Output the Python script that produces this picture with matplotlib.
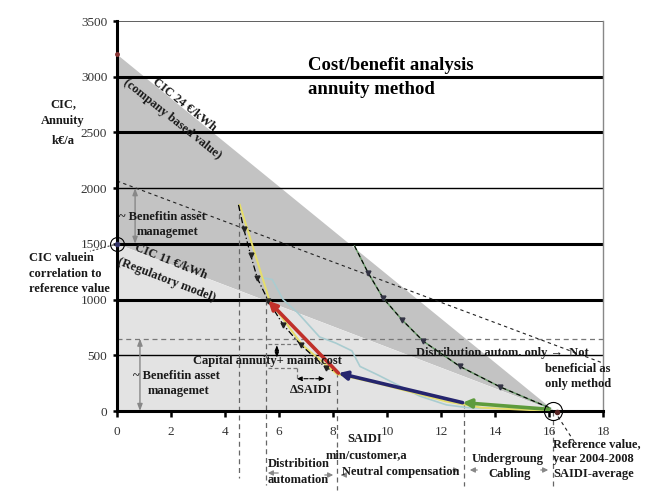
import numpy as np
import matplotlib
matplotlib.use("Agg")
import matplotlib.pyplot as plt

plt.rcParams['font.family'] = ['Liberation Serif', 'DejaVu Serif']

# CIC lines (k€/a at SAIDI = 0) and reference SAIDI
cic24_y0 = 3200
cic11_y0 = 1500
saidi_ref = 16.2

# distribution automation curve
auto_x = [4.5, 4.7, 4.95, 5.2, 5.6, 6.15, 6.8, 7.75, 8.15]
auto_y = [1850, 1630, 1400, 1190, 990, 775, 595, 385, 350]

# underground cabling curve
cab_x = [8.8, 9.3, 9.85, 10.55, 11.35, 12.7, 14.2, 16.05]
cab_y = [1480, 1240, 1015, 820, 625, 400, 215, 25]

# light blue curve
lb_x = [5.4, 5.75, 6.15, 6.7, 7.5, 8.1, 8.7, 9.0, 9.65, 11.2, 12.2, 13.0, 16.0]
lb_y = [1195, 1180, 1000, 880, 665, 610, 540, 400, 325, 135, 55, 30, 10]

# yellow lower curve
yel_x = [4.55, 5.65, 6.85, 8.15, 9.7, 11.2, 12.2, 13.5, 16.0]
yel_y = [1850, 990, 595, 330, 245, 150, 85, 30, 0]

# combined optimum path (arrows)
path_x = [16.0, 12.8, 8.2, 5.6]
path_y = [15, 75, 340, 990]
path_cols = ['#5d9b3c', '#25256e', '#c0302a']

# dashed benefit line
ben_x = [0, 18]
ben_y = [2064, 430]

fig = plt.figure(figsize=(6.45, 4.97), dpi=100)
ax = fig.add_axes([117/645, 86/497, 486/645, 390/497])
ax.set_xlim(0, 18)
ax.set_ylim(0, 3500)

# shaded triangles
ax.fill([0, 0, saidi_ref], [cic24_y0, cic11_y0, 0], color='#c3c3c3', lw=0, zorder=0)
ax.fill([0, 0, saidi_ref], [cic11_y0, 0, 0], color='#e3e3e3', lw=0, zorder=0)

# horizontal grid
for yv, w in [(500, 1.0), (1000, 2.2), (1500, 2.2), (2000, 1.0), (2500, 2.2), (3000, 2.2)]:
    ax.axhline(yv, color='black', lw=w, zorder=1)
ax.axhline(3500, color='#444444', lw=1.2, zorder=1)

# dashed helper lines
ax.plot([0, 18], [650, 650], ls=(0, (4, 3)), color='#777777', lw=0.9, zorder=2)
ax.plot(ben_x, ben_y, ls=(0, (3, 3)), color='#222222', lw=0.8, zorder=2)
ax.plot([saidi_ref, 17.0], [0, -300], ls=(0, (3, 3)), color='#222222', lw=0.8, clip_on=False)
ax.plot([0, -1.0], [1500, 1434], ls=(0, (2, 2)), color='#222222', lw=0.7, clip_on=False)
for xv, ytop, ybot in [(4.53, 1850, -600), (5.5, 1000, -660), (8.13, 350, -710),
                       (12.86, 75, -670), (16.15, 0, -670)]:
    ax.plot([xv, xv], [ytop, ybot], ls=(0, (4, 3)), color='#666666', lw=0.9, clip_on=False, zorder=2)
ax.plot([5.6, 6.75], [603, 603], ls=(0, (3, 2)), color='#777777', lw=0.9, zorder=2)
ax.plot([5.6, 6.75], [387, 387], ls=(0, (3, 2)), color='#777777', lw=0.9, zorder=2)
ax.plot([6.65, 6.65], [387, 300], ls=(0, (3, 2)), color='#777777', lw=0.9, zorder=2)

# curves
ax.plot(lb_x, lb_y, color='#a9ccd0', lw=1.2, zorder=3)
ax.plot(yel_x, yel_y, color='#e6de6a', lw=1.4, zorder=3)
ax.plot(auto_x, auto_y, color='black', lw=0.9, ls=(0, (5, 2, 1, 2)), zorder=4)
ax.plot(auto_x[1:-1], auto_y[1:-1], ls='none', marker='v', ms=3.5, color='#222222', zorder=5)
ax.plot(cab_x, cab_y, color='#6a9a6a', lw=1.1, zorder=3)
ax.plot(cab_x, cab_y, color='black', lw=0.8, ls=(0, (4, 3)), zorder=4)
ax.plot(cab_x[1:-1], cab_y[1:-1], ls='none', marker='v', ms=3.5, color='#333344', zorder=5)

for i in range(len(path_x) - 1):
    ax.annotate('', xy=(path_x[i+1], path_y[i+1]), xytext=(path_x[i], path_y[i]),
                arrowprops=dict(arrowstyle='-|>,head_length=0.5,head_width=0.25',
                                color=path_cols[i], lw=2.6, shrinkA=0, shrinkB=0), zorder=6)

# circles and dots
ax.plot([0], [1500], marker='o', ms=10, mfc='none', mec='black', mew=0.8, clip_on=False, zorder=7)
ax.plot([0], [1500], marker='o', ms=3, color='#333366', clip_on=False, zorder=7)
ax.plot([16.15], [0], marker='o', ms=13, mfc='none', mec='black', mew=0.8, clip_on=False, zorder=7)
ax.plot([16.3], [-10], marker='o', ms=3, color='#552222', clip_on=False, zorder=7)
ax.plot([0], [3200], marker='o', ms=2.5, color='#883333', clip_on=False, zorder=7)

# double arrows
gray_arr = dict(arrowstyle='<|-|>,head_length=0.4,head_width=0.15', color='#888888', lw=1.0,
                shrinkA=0, shrinkB=0)
ax.annotate('', xy=(0.67, 2000), xytext=(0.67, 1500), arrowprops=gray_arr)
ax.annotate('', xy=(0.85, 650), xytext=(0.85, 0), arrowprops=gray_arr)
blk_arr = dict(arrowstyle='<|-|>,head_length=0.3,head_width=0.12', color='black', lw=0.8,
               shrinkA=0, shrinkB=0)
ax.annotate('', xy=(5.92, 590), xytext=(5.92, 480), arrowprops=blk_arr)
ax.annotate('', xy=(7.7, 290), xytext=(6.65, 290),
            arrowprops=dict(arrowstyle='<|-|>,head_length=0.3,head_width=0.12', color='black',
                            lw=0.8, ls='--', shrinkA=0, shrinkB=0))

# axes styling
ax.spines['top'].set_visible(False)
ax.spines['right'].set_color('#888888')
ax.spines['right'].set_linewidth(1.0)
ax.spines['left'].set_linewidth(2.2)
ax.spines['bottom'].set_linewidth(2.2)
ax.set_xticks(range(0, 19, 2))
ax.set_yticks(range(0, 3501, 500))
ax.tick_params(axis='x', direction='out', length=4, width=1.8, labelsize=9.5, pad=7,
               labelcolor='#333333')
ax.tick_params(axis='y', direction='out', length=3, width=1.8, labelsize=9.5, pad=4,
               labelcolor='#333333')

# figure texts (pixel positions)
def ft(x, y, s, **kw):
    fig.text(x/645, 1 - y/497, s, **kw)

bold = dict(fontweight='bold', fontsize=9, va='center', ha='left', color='#1a1a1a')
ft(308, 65, 'Cost/benefit analysis', fontsize=13.5, fontweight='bold', va='center')
ft(308, 90, 'annuity method', fontsize=13.5, fontweight='bold', va='center')
ft(63, 104, 'CIC,', **dict(bold, ha='center'))
ft(63, 121, 'Annuity', **dict(bold, ha='center'))
ft(63, 141, 'k€/a', **dict(bold, ha='center'))
ft(29, 258, 'CIC valuein', **bold)
ft(29, 274, 'correlation to', **bold)
ft(29, 289, 'reference value', **bold)
ft(119, 217, '~ Benefitin asset', **bold)
ft(137, 232, 'managemet', **bold)
ft(133, 376, '~ Benefitin asset', **bold)
ft(148, 391, 'managemet', **bold)
ft(193, 361, 'Capital annuity+ maint.cost', **bold)
ft(290, 390, 'ΔSAIDI', **bold)
ft(416, 353, 'Distribution autom. only →  Not', **bold)
ft(545, 369, 'beneficial as', **bold)
ft(545, 384, 'only method', **bold)
ft(347, 439, 'SAIDI', **bold)
ft(326, 455, 'min/customer,a', **bold)
ft(268, 464, 'Distribition', **bold)
ft(268, 480, 'automation', **bold)
ft(342, 472, 'Neutral compensation', **bold)
ft(472, 459, 'Undergroung', **bold)
ft(488, 474, 'Cabling', **bold)
ft(553, 444, 'Reference value,', **bold)
ft(553, 459, 'year 2004-2008', **bold)
ft(553, 474, 'SAIDI-average', **bold)

rot = dict(fontweight='bold', fontsize=9, ha='center', va='center', rotation_mode='anchor',
           color='#1a1a1a')
ft(184, 105, 'CIC 24 €/kWh', rotation=-38.5, **rot)
ft(172, 119, '(company based value)', rotation=-38.5, **rot)
ft(171, 262, 'CIC 11 €/kWh', rotation=-22, **rot)
ft(167, 280, '(Regulatory model)', rotation=-21, **rot)

# small gray arrows below axis
def farrow(x0, x1, y):
    fig.add_artist(matplotlib.patches.FancyArrowPatch(
        (x0/645, 1 - y/497), (x1/645, 1 - y/497), transform=fig.transFigure,
        arrowstyle='-|>,head_length=3,head_width=1.5', color='#888888', lw=0.9))

farrow(281, 265, 473)
farrow(322, 336, 475)
farrow(346, 338, 475)
farrow(450, 462, 470)
farrow(480, 467, 470)
farrow(538, 551, 470)

fig.savefig('out.png', dpi=100)
